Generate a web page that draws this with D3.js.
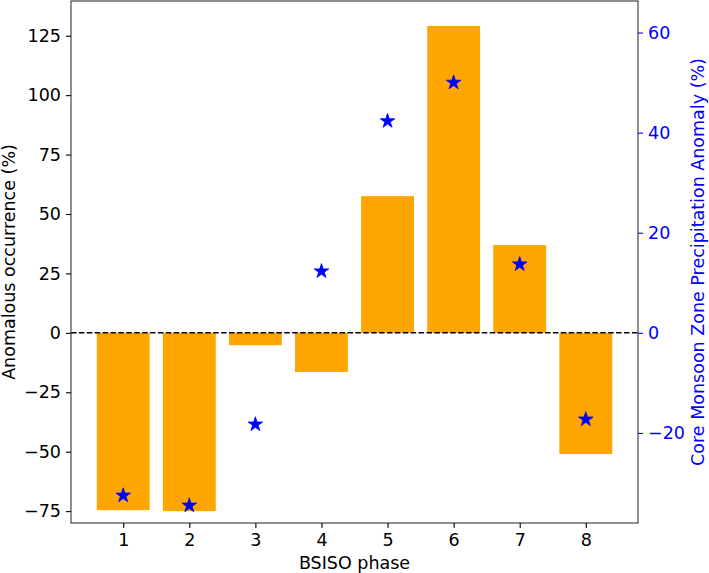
<!DOCTYPE html>
<html>
<head>
<meta charset="utf-8">
<script src="https://cdn.jsdelivr.net/npm/d3@7"></script>
<style>
  body { margin: 0; background: #fff; }
  text { font-family: "DejaVu Sans", sans-serif; }
</style>
</head>
<body>
<div id="chart"></div>
<script>
// BSISO phases and the two series
var phases = [1, 2, 3, 4, 5, 6, 7, 8]
var occurrence = [-74.6, -75.0, -5.2, -16.5, 57.5, 129.1, 36.9, -51.0]
var precipAnomaly = [-32.5, -34.5, -18.3, 12.3, 42.3, 50.0, 13.7, -17.3]

var leftTicks = [-75, -50, -25, 0, 25, 50, 75, 100, 125]
var rightTicks = [-20, 0, 20, 40, 60]

var W = 709, H = 573
var margin = {top: 1, right: 71, bottom: 50, left: 71},
    width = W - margin.left - margin.right,
    height = H - margin.top - margin.bottom;

var FONT = '17.5px'

var x = d3.scaleLinear().domain([0.21, 8.79]).range([0, width]);
var yL = d3.scaleLinear().domain([-80, 139.6]).range([height, 0]);
var yR = d3.scaleLinear().domain([-38.0, 66.3]).range([height, 0]);

var svg = d3.select('#chart')
  .append('svg')
  .attr('width', W)
  .attr('height', H)
  .append('g')
  .attr('transform', 'translate(' + margin.left + ',' + margin.top + ')');

// bars
var barW = x(1.8) - x(1);
svg.selectAll('.bar')
  .data(phases)
  .enter()
  .append('rect')
  .attr('class', 'bar')
  .attr('x', function(d) { return x(d) - barW / 2; })
  .attr('width', barW)
  .attr('y', function(d, i) { return yL(Math.max(0, occurrence[i])); })
  .attr('height', function(d, i) { return Math.abs(yL(occurrence[i]) - yL(0)); })
  .style('fill', '#ffa500');

// zero line
svg.append('line')
  .attr('x1', 0).attr('x2', width)
  .attr('y1', yL(0)).attr('y2', yL(0))
  .style('stroke', '#000')
  .style('stroke-width', 1.5)
  .style('stroke-dasharray', '5.5,2.4');

// stars on the right axis
svg.selectAll('.star')
  .data(phases)
  .enter()
  .append('path')
  .attr('class', 'star')
  .attr('d', d3.symbol().type(d3.symbolStar).size(66))
  .attr('transform', function(d, i) { return 'translate(' + x(d) + ',' + yR(precipAnomaly[i]) + ')'; })
  .style('fill', '#0000ff')
  .style('stroke', '#0000ff')
  .style('stroke-width', 0.8);

// frame
svg.append('rect')
  .attr('width', width)
  .attr('height', height)
  .style('fill', 'none')
  .style('stroke', '#333')
  .style('stroke-width', 1.1);

function styleAxis(g, color) {
  g.select('.domain').remove();
  g.selectAll('.tick line').style('stroke', color).style('stroke-width', 1.1);
  g.selectAll('.tick text')
    .style('fill', color)
    .style('font-size', FONT)
    .style('font-family', '"DejaVu Sans", sans-serif');
}

var minusFmt = function(d) { return d < 0 ? '\u2212' + Math.abs(d) : d; };

// x axis
svg.append('g')
  .attr('transform', 'translate(0,' + height + ')')
  .call(d3.axisBottom(x).tickValues(phases).tickFormat(d3.format('d')).tickSize(5).tickPadding(6))
  .call(function(g) { styleAxis(g, '#000'); });

// left axis
svg.append('g')
  .call(d3.axisLeft(yL).tickValues(leftTicks).tickFormat(minusFmt).tickSize(5).tickPadding(5))
  .call(function(g) { styleAxis(g, '#000'); });

// right axis
svg.append('g')
  .attr('transform', 'translate(' + width + ',0)')
  .call(d3.axisRight(yR).tickValues(rightTicks).tickFormat(minusFmt).tickSize(5).tickPadding(5))
  .call(function(g) { styleAxis(g, '#0000ff'); });

// axis titles
svg.append('text')
  .attr('x', width / 2)
  .attr('y', height + 46)
  .style('text-anchor', 'middle')
  .style('font-size', FONT)
  .text('BSISO phase');

svg.append('text')
  .attr('transform', 'rotate(-90)')
  .attr('x', -height / 2)
  .attr('y', -56)
  .style('text-anchor', 'middle')
  .style('font-size', FONT)
  .text('Anomalous occurrence (%)');

svg.append('text')
  .attr('transform', 'rotate(-90)')
  .attr('x', -height / 2)
  .attr('y', width + 66)
  .style('text-anchor', 'middle')
  .style('font-size', FONT)
  .style('fill', '#0000ff')
  .text('Core Monsoon Zone Precipitation Anomaly (%)');
</script>
</body>
</html>
